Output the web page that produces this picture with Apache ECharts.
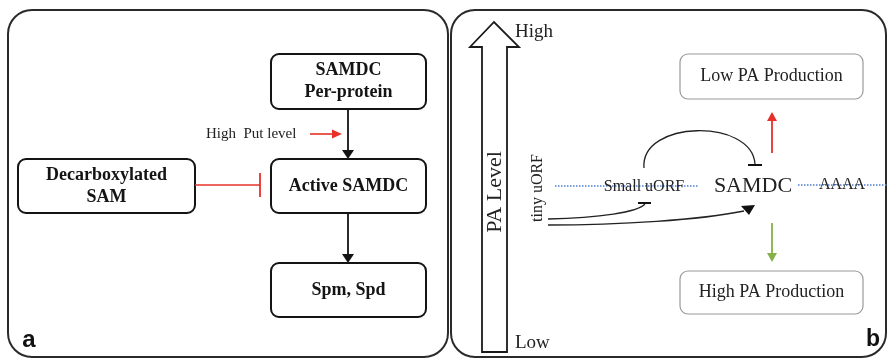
<!DOCTYPE html>
<html>
<head>
<meta charset="utf-8">
<script src="https://cdn.jsdelivr.net/npm/echarts@6/dist/echarts.min.js"></script>
<style>
html,body{margin:0;padding:0;background:#fff;}
#chart{width:887px;height:359px;}
</style>
</head>
<body>
<div id="chart"></div>
<script>
// ---- content (text) ----
const panelLabels = ['a', 'b'];
const pathwayBoxes = ['SAMDC\nPer-protein', 'Active SAMDC', 'Spm, Spd', 'Decarboxylated\nSAM'];
const regulatorText = 'High  Put level';
const outcomeBoxes = ['Low PA Production', 'High PA Production'];
const transcriptParts = ['Small uORF', 'SAMDC', 'AAAA'];
const levelLabels = ['High', 'Low'];
const levelTitle = 'PA Level';
const sideNote = 'tiny uORF';

// ---- layout ----
const SERIF = '"Liberation Serif", "Times New Roman", serif';
const SANS = '"Liberation Sans", Arial, sans-serif';
const BLACK = '#141414';
const RED = '#e8302a';
const GREEN = '#86b04a';
const BLUE = '#4d7fd4';

const boxA = [
  {x: 271, y: 54, w: 155, h: 55},
  {x: 271, y: 159, w: 155, h: 54},
  {x: 271, y: 263, w: 155, h: 54},
  {x: 18, y: 159, w: 177, h: 54}
];
const boxB = [
  {x: 680, y: 54, w: 183, h: 45},
  {x: 680, y: 271, w: 183, h: 43}
];

function txt(text, x, y, font, fill, opts) {
  opts = opts || {};
  return {
    type: 'text', silent: true, x: x, y: y, rotation: opts.rotation || 0, z: 10,
    style: {
      text: text, x: 0, y: 0, font: font, fill: fill || BLACK,
      align: opts.align || 'center', verticalAlign: 'middle',
      textAlign: opts.align || 'center', textVerticalAlign: 'middle',
      lineHeight: opts.lineHeight || 22
    }
  };
}
function line(pts, stroke, lw, dash) {
  return {type: 'polyline', silent: true, shape: {points: pts},
    style: {stroke: stroke, lineWidth: lw || 1.5, fill: null, lineDash: dash || null}};
}
function tri(pts, fill) {
  return {type: 'polygon', silent: true, shape: {points: pts}, style: {fill: fill, stroke: null}};
}
function box(b, stroke, lw) {
  return {type: 'rect', silent: true, shape: {x: b.x, y: b.y, width: b.w, height: b.h, r: 8},
    style: {fill: '#fff', stroke: stroke, lineWidth: lw}};
}

const els = [];
// panel frames
els.push({type: 'rect', silent: true, shape: {x: 8, y: 10, width: 440, height: 347, r: 24},
  style: {fill: null, stroke: '#2a2a2a', lineWidth: 2}});
els.push({type: 'rect', silent: true, shape: {x: 451, y: 10, width: 435, height: 347, r: 24},
  style: {fill: null, stroke: '#2a2a2a', lineWidth: 2}});

// ---- panel a ----
boxA.forEach(function (b) { els.push(box(b, BLACK, 2)); });
const boldSerif = 'bold 18px ' + SERIF;
boxA.forEach(function (b, i) {
  els.push(txt(pathwayBoxes[i], b.x + b.w / 2, b.y + b.h / 2, boldSerif, BLACK, {lineHeight: 22}));
});
// black arrows
els.push(line([[348, 109], [348, 151]], BLACK, 1.8));
els.push(tri([[342, 150], [354, 150], [348, 159]], BLACK));
els.push(line([[348, 213], [348, 255]], BLACK, 1.8));
els.push(tri([[342, 254], [354, 254], [348, 263]], BLACK));
// regulator
els.push(txt(regulatorText, 206, 134, '15px ' + SERIF, '#222', {align: 'left'}));
els.push(line([[310, 134], [333, 134]], RED, 1.6));
els.push(tri([[332, 129.5], [332, 138.5], [342, 134]], RED));
// inhibition
els.push(line([[195, 185], [260, 185]], RED, 1.6));
els.push(line([[260, 173], [260, 197]], RED, 1.8));
els.push(txt(panelLabels[0], 29, 340, 'bold 24px ' + SANS, '#111'));

// ---- panel b ----
// big hollow arrow
els.push({type: 'polygon', silent: true,
  shape: {points: [[482, 352], [482, 47], [470, 47], [494, 22], [519, 47], [507, 47], [507, 352]]},
  style: {fill: '#fff', stroke: '#1a1a1a', lineWidth: 1.8}});
els.push(txt(levelTitle, 495, 192, '22px ' + SERIF, '#222', {rotation: Math.PI / 2}));
els.push(txt(levelLabels[0], 515, 32, '19px ' + SERIF, '#222', {align: 'left'}));
els.push(txt(levelLabels[1], 515, 343, '19px ' + SERIF, '#222', {align: 'left'}));
els.push(txt(sideNote, 538, 188, '16px ' + SERIF, '#222', {rotation: Math.PI / 2}));

// outcome boxes
boxB.forEach(function (b, i) {
  els.push(box(b, '#9a9a9a', 1.2));
  els.push(txt(outcomeBoxes[i], b.x + b.w / 2, b.y + b.h / 2, '18px ' + SERIF, '#222'));
});
// red/green arrows
els.push(line([[772, 153], [772, 120]], RED, 1.8));
els.push(tri([[767, 121], [777, 121], [772, 112]], RED));
els.push(line([[772, 223], [772, 254]], GREEN, 1.8));
els.push(tri([[767, 253], [777, 253], [772, 262]], GREEN));

// transcript dotted line
els.push(line([[555, 186], [698, 186]], BLUE, 1.3, [1.5, 1.5]));
els.push(line([[798, 185], [887, 185]], BLUE, 1.3, [1.5, 1.5]));
els.push(txt(transcriptParts[0], 644, 187, '16px ' + SERIF, '#222'));
els.push(txt(transcriptParts[1], 753, 186, '22px ' + SERIF, '#222'));
els.push(txt(transcriptParts[2], 842, 185, '16px ' + SERIF, '#222'));

// arc: small uORF inhibits SAMDC
els.push({type: 'bezierCurve', silent: true,
  shape: {x1: 644, y1: 168, cpx1: 640, cpy1: 120, cpx2: 752, cpy2: 118, x2: 755, y2: 164},
  style: {stroke: '#222', lineWidth: 1.3, fill: null}});
els.push(line([[748, 165], [762, 165]], '#111', 2));
// lower curves
els.push({type: 'bezierCurve', silent: true,
  shape: {x1: 548, y1: 219, cpx1: 600, cpy1: 218, cpx2: 638, cpy2: 212, x2: 645, y2: 204},
  style: {stroke: '#222', lineWidth: 1.3, fill: null}});
els.push(line([[638, 203], [651, 203]], '#111', 2));
els.push({type: 'bezierCurve', silent: true,
  shape: {x1: 548, y1: 225, cpx1: 620, cpy1: 225, cpx2: 700, cpy2: 220, x2: 744, y2: 211},
  style: {stroke: '#222', lineWidth: 1.3, fill: null}});
els.push(tri([[741, 206], [755, 205], [749, 215]], '#111'));

els.push(txt(panelLabels[1], 873, 340, 'bold 23px ' + SANS, '#111'));

const chart = echarts.init(document.getElementById('chart'), null, {renderer: 'canvas'});
chart.setOption({
  backgroundColor: '#fff',
  animation: false,
  graphic: {elements: els}
});
</script>
</body>
</html>
